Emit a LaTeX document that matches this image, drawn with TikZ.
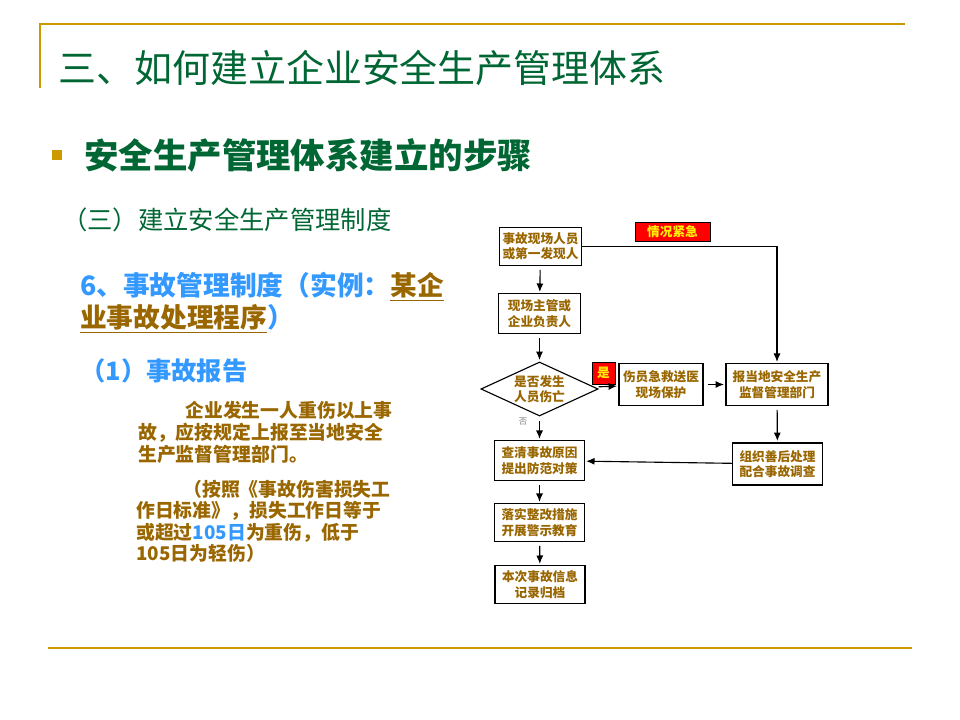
\documentclass[tikz,border=0pt]{standalone}
\usepackage{fontspec}
\setmainfont{Noto Sans CJK SC}
\usetikzlibrary{shapes.geometric,positioning,arrows.meta}
\definecolor{gold}{HTML}{CC9900}
\definecolor{deepgreen}{HTML}{006633}
\definecolor{skyblue}{HTML}{3399FF}
\definecolor{brownish}{HTML}{996600}
\tikzset{
  flowbox/.style={draw, thick, fill=white, text=brownish, font=\fontsize{9}{11}\selectfont\bfseries, align=center, inner sep=1pt},
  tagbox/.style={draw, fill=red, text=yellow, font=\fontsize{9}{10}\selectfont\bfseries, inner sep=1pt},
  flow/.style={-{Latex[length=6pt,width=5pt]}, thick, shorten <=3pt, shorten >=1pt},
}
\begin{document}
\begin{tikzpicture}[x=0.025cm, y=-0.025cm]
  \useasboundingbox (0,0) rectangle (960,720);
  % frame lines
  \draw[gold, line width=1.5pt] (40,88) -- (40,24) -- (905,24);
  \draw[gold, line width=1.5pt] (48,648) -- (912,648);
  % headings
  \node[anchor=west, text=deepgreen, font=\fontsize{27}{30}\selectfont, inner sep=0] (title) at (58,68) {三、如何建立企业安全生产管理体系};
  \fill[gold] (52,150) rectangle (62,160);
  \node[anchor=west, text=deepgreen, font=\fontsize{24.5}{28}\selectfont\bfseries, inner sep=0] (steps) at (84,155) {安全生产管理体系建立的步骤};
  \node[anchor=west, text=deepgreen, font=\fontsize{18}{20}\selectfont, inner sep=0] (sub) at (62,220) {（三）建立安全生产管理制度};
  \node[anchor=north west, text=skyblue, font=\fontsize{19}{23}\selectfont\bfseries, inner sep=0, align=left] (rule) at (80,272)
    {6、事故管理制度（实例：\textcolor{brownish}{\underline{某企}}\\\textcolor{brownish}{\underline{业事故处理程序}}）};
  \node[anchor=west, text=skyblue, font=\fontsize{18}{20}\selectfont\bfseries, inner sep=0] (report) at (80,371) {（1）事故报告};
  \node[anchor=north west, text=brownish, font=\fontsize{13.4}{15.6}\selectfont\bfseries, inner sep=0, align=left] (para1) at (138,401)
    {\hspace{2.5em}企业发生一人重伤以上事\\故，应按规定上报至当地安全\\生产监督管理部门。};
  \node[anchor=north west, text=brownish, font=\fontsize{13.4}{15.2}\selectfont\bfseries, inner sep=0, align=left] (para2) at (136,480)
    {\hspace{2.5em}（按照《事故伤害损失工\\作日标准》，损失工作日等于\\或超过\textcolor{skyblue}{105日}为重伤，低于\\105日为轻伤）};
  % flowchart
  \node[flowbox, minimum width=2.03cm, minimum height=0.93cm] (scene) at (540.5,246.5) {事故现场人员\\或第一发现人};
  \node[tagbox, minimum width=1.88cm, minimum height=0.48cm] (urgent) at (672.5,231.5) {情况紧急};
  \node[flowbox, minimum width=2.03cm, minimum height=0.98cm] (chief) at (539.5,313.5) {现场主管或\\企业负责人};
  \node[flowbox, diamond, aspect=2.2, minimum width=2.93cm, minimum height=1.35cm, inner sep=0] (hurt) at (539.5,389) {是否发生\\人员伤亡};
  \node[tagbox, minimum width=0.58cm, minimum height=0.55cm] (yes) at (603.5,373) {是};
  \node[flowbox, minimum width=2.1cm, minimum height=1.03cm] (rescue) at (661,384.5) {伤员急救送医\\现场保护};
  \node[flowbox, minimum width=2.55cm, minimum height=1.03cm] (authority) at (777,384.5) {报当地安全生产\\监督管理部门};
  \node[flowbox, minimum width=2.23cm, minimum height=1.05cm] (aftermath) at (777.5,464) {组织善后处理\\配合事故调查};
  \node[flowbox, minimum width=2.23cm, minimum height=0.98cm] (cause) at (539.5,460.5) {查清事故原因\\提出防范对策};
  \node[flowbox, minimum width=2.23cm, minimum height=0.93cm] (measure) at (539.5,522.5) {落实整改措施\\开展警示教育};
  \node[flowbox, minimum width=2.25cm, minimum height=0.93cm] (archive) at (540,584.5) {本次事故信息\\记录归档};
  \node[text=gray, font=\fontsize{6}{6}\selectfont] (no) at (523,422) {否};
  \draw[flow] (scene) -- (chief);
  \draw[flow] (chief) -- (hurt);
  \draw[flow] (hurt) -- (cause);
  \draw[flow] (hurt) -- (rescue);
  \draw[flow] (rescue) -- (authority);
  \draw[flow, shorten <=0pt] (scene.east) -| (authority.north);
  \draw[flow] (authority) -- (aftermath);
  \draw[flow, shorten <=0pt] (aftermath) -- (cause);
  \draw[flow] (cause) -- (measure);
  \draw[flow] (measure) -- (archive);
\end{tikzpicture}
\end{document}
